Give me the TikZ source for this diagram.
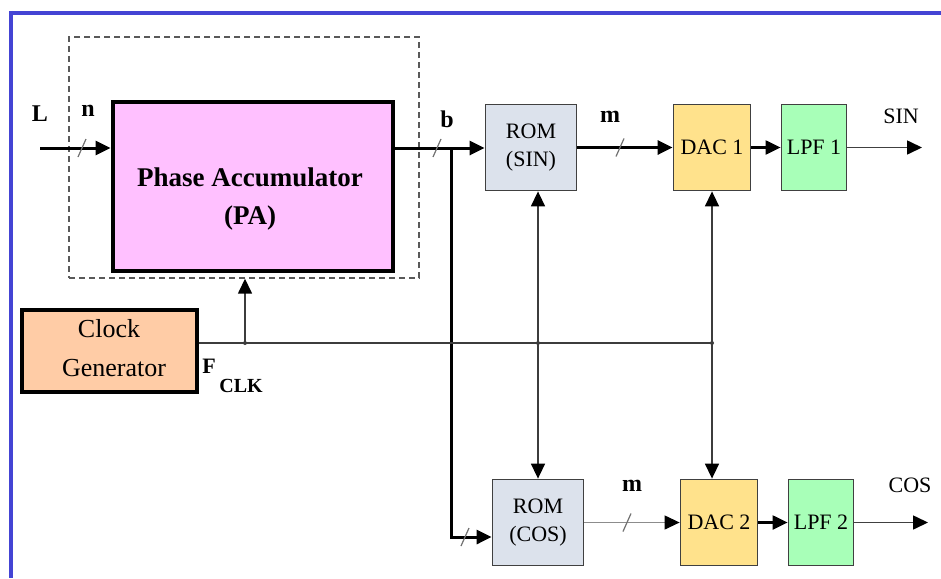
\documentclass[tikz,border=0pt]{standalone}
\usepackage{fontspec}
\setmainfont{Liberation Serif}
\usetikzlibrary{arrows.meta}
\definecolor{frameblue}{RGB}{68,68,212}
\definecolor{pafill}{RGB}{255,192,255}
\definecolor{romfill}{RGB}{220,226,236}
\definecolor{dacfill}{RGB}{255,226,140}
\definecolor{lpffill}{RGB}{168,255,184}
\definecolor{clkfill}{RGB}{255,204,166}
\definecolor{clkline}{RGB}{60,60,60}
\begin{document}
\begin{tikzpicture}[x=1pt,y=-1pt,
  tip/.style={-{Triangle[length=15pt,width=14pt,color=black]}},
  tiptwo/.style={{Triangle[length=15pt,width=14pt,color=black]}-{Triangle[length=15pt,width=14pt,color=black]}},
  bigbox/.style={draw=black,line width=4pt,inner sep=0pt},
  smallbox/.style={draw=black!75,line width=1.8pt,inner sep=0pt,minimum height=86pt,align=center,font=\rmfamily\fontsize{22}{28}\selectfont},
  busline/.style={line width=3pt,black},
  midline/.style={line width=2.2pt,black},
  clkwire/.style={line width=1.5pt,clkline},
  thinwire/.style={line width=1.6pt,black!75},
  graywire/.style={line width=1.2pt,black!45},
  slash/.style={line width=1.2pt,black!55},
  blbl/.style={font=\rmfamily\bfseries\fontsize{24}{28}\selectfont},
  rlbl/.style={font=\rmfamily\fontsize{22}{26}\selectfont}]
\useasboundingbox (0,0) rectangle (941,578);
\fill[white] (0,0) rectangle (941,578);
% frame
\draw[frameblue,line width=4pt] (9,13) -- (941,13);
\draw[frameblue,line width=4pt] (11,11) -- (11,578);

% dashed group
\node[draw=black!65,dashed,dash pattern=on 6pt off 4pt,line width=1.4pt,minimum width=350pt,minimum height=241pt,inner sep=0pt] (dash) at (244,157.5) {};
% boxes
\node[bigbox,fill=pafill,minimum width=280pt,minimum height=169pt] (pa) at (252.5,186) {};
\node[font=\rmfamily\bfseries\fontsize{27}{38}\selectfont,align=center] (patxt) at (250,199) {Phase Accumulator\\(PA)};
\node[bigbox,fill=clkfill,minimum width=175pt,minimum height=82pt] (clock) at (109.5,351) {};
\node[font=\rmfamily\fontsize{26}{39}\selectfont,align=center] (clktxt) at (109,348.5) {Clock\\\hspace*{10pt}Generator};

\node[smallbox,fill=romfill,minimum width=91pt] (romsin) at (531,147.5) {ROM\\(SIN)};
\node[smallbox,fill=dacfill,minimum width=77pt] (dac1) at (712,147.5) {DAC 1};
\node[smallbox,fill=lpffill,minimum width=65pt] (lpf1) at (814,147.5) {LPF 1};
\node[smallbox,fill=romfill,minimum width=91pt] (romcos) at (538,522.5) {ROM\\(COS)};
\node[smallbox,fill=dacfill,minimum width=77pt] (dac2) at (719,522.5) {DAC 2};
\node[smallbox,fill=lpffill,minimum width=65pt] (lpf2) at (821,522.5) {LPF 2};

% labels
\node[blbl] (lL) at (40,114) {L};
\node[blbl] (ln) at (88,111) {n};
\node[blbl] (lb) at (447,119) {b};
\node[blbl] (lm1) at (610,117) {m};
\node[blbl] (lm2) at (632,486) {m};
\node[rlbl] (lsin) at (901,116) {SIN};
\node[rlbl] (lcos) at (910,485) {COS};
\node[font=\rmfamily\bfseries\fontsize{22}{26}\selectfont] (lF) at (209,366) {F};
\node[font=\rmfamily\bfseries\fontsize{20}{24}\selectfont] (lclk) at (241,386) {CLK};

% coordinates
\coordinate (Lin) at (40,148);
\coordinate (bj) at (451,148);
\coordinate (bc) at (451,537);
\coordinate (c1) at (245,343);
\coordinate (c2) at (538,343);
\coordinate (c3) at (712,343);
\coordinate (sinout) at (922,147.5);
\coordinate (cosout) at (928,522.5);

% bus lines
\draw[busline,tip] (Lin) -- (Lin -| pa.west);
\draw[busline,tip] (Lin -| pa.east) -- (Lin -| romsin.west);
\draw[busline,tip] (bj) -- (bc) -- (bc -| romcos.west);
\draw[busline,tip] (romsin.east) -- (dac1.west);
\draw[midline,tip] (dac1.east) -- (lpf1.west);
\draw[thinwire,tip] (lpf1.east) -- (sinout);
\draw[graywire,tip] (romcos.east) -- (dac2.west);
\draw[midline,tip] (dac2.east) -- (lpf2.west);
\draw[thinwire,tip] (lpf2.east) -- (cosout);

% slashes
\foreach \p in {(82,148),(437,148),(620,147.5),(465,537),(627,522.5)}
  \draw[slash] \p ++(-4,9) -- ++(8,-18);

% clock wiring
\draw[clkwire] (clock.east |- c1) -- (c3);
\draw[clkwire,tip] (c1) -- (c1 |- dash.south);
\draw[clkwire,tiptwo] (c2 |- romsin.south) -- (c2 |- romcos.north);
\draw[clkwire,tiptwo] (c3 |- dac1.south) -- (c3 |- dac2.north);
\fill[clkline] (c1) circle (2pt) (c2) circle (2pt) (c3) circle (2pt);
\end{tikzpicture}
\end{document}
